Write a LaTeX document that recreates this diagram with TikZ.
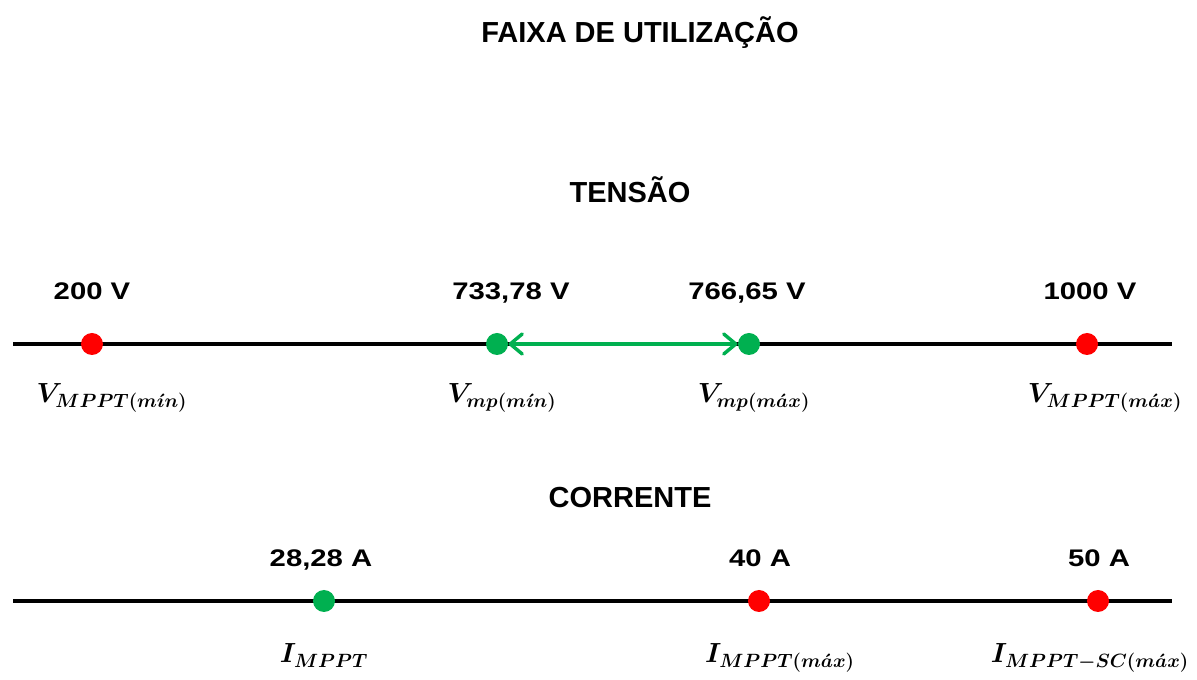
\documentclass[tikz,border=0pt]{standalone}
\usepackage[no-math]{fontspec}
\usepackage{amsmath,bm}
\usetikzlibrary{arrows.meta}
\setmainfont{Liberation Sans}
\newfontfamily\valuefont[FakeStretch=1.22]{Liberation Sans}
\definecolor{dotred}{RGB}{255,0,0}
\definecolor{dotgreen}{RGB}{0,176,80}

\tikzset{every picture/.style={line width=0.75pt}}
\tikzset{
  heading/.style={font=\fontsize{21.75}{26}\selectfont\bfseries,inner sep=0.75pt},
  value/.style={font=\valuefont\fontsize{18}{22}\selectfont\bfseries,inner sep=0.75pt},
  symb/.style={font=\fontsize{21.5}{26}\selectfont\boldmath,inner sep=0.75pt},
  reddot/.style={circle,fill=dotred,minimum size=16.5pt,inner sep=0pt},
  greendot/.style={circle,fill=dotgreen,minimum size=16.5pt,inner sep=0pt},
  axisline/.style={line width=3pt},
  rangearrow/.style={draw=dotgreen,line width=2.6pt,{Straight Barb[length=9pt,width=15pt,round]}-{Straight Barb[length=9pt,width=15pt,round]}},
}

\begin{document}
\begin{tikzpicture}[x=0.75pt,y=0.75pt,yscale=-1,xscale=1]
\useasboundingbox (0,0) rectangle (1197,680);

% Text Node
\node (title) at (640,43) [heading,anchor=base] {FAIXA DE UTILIZAÇÃO};
% Text Node
\node (tensao) at (630,203) [heading,anchor=base] {TENSÃO};
% Text Node
\node (corrente) at (630,508) [heading,anchor=base] {CORRENTE};

%Straight Lines
\draw [axisline] (13,344) -- (1172,344);
%Straight Lines
\draw [axisline] (13,601) -- (1172,601);

%Shape: Circle
\node (vmpptmin) at (92,344) [reddot] {};
%Shape: Circle
\node (vmpmin) at (497,344) [greendot] {};
%Shape: Circle
\node (vmpmax) at (749,344) [greendot] {};
%Shape: Circle
\node (vmpptmax) at (1087,344) [reddot] {};
%Shape: Circle
\node (impptdot) at (324,601) [greendot] {};
%Shape: Circle
\node (impptmax) at (759,601) [reddot] {};
%Shape: Circle
\node (impptsc) at (1098,601) [reddot] {};

%Straight Lines
\draw [rangearrow] (vmpmin) -- (vmpmax);

% Text Node
\node (v200) at (92,300) [value,anchor=base] {200 V};
% Text Node
\node (v733) at (511,300) [value,anchor=base] {733,78 V};
% Text Node
\node (v766) at (747,300) [value,anchor=base] {766,65 V};
% Text Node
\node (v1000) at (1090,300) [value,anchor=base] {1000 V};
% Text Node
\node (a28) at (321,567) [value,anchor=base] {28,28 A};
% Text Node
\node (a40) at (760,567) [value,anchor=base] {40 A};
% Text Node
\node (a50) at (1099,567) [value,anchor=base] {50 A};

% Text Node
\node (lvmpptmin) at (112,403) [symb,anchor=base] {$V_{MPPT(m\acute{\imath}n)}$};
% Text Node
\node (lvmpmin) at (502,403) [symb,anchor=base] {$V_{mp(m\acute{\imath}n)}$};
% Text Node
\node (lvmpmax) at (754,403) [symb,anchor=base] {$V_{mp(m\acute{a}x)}$};
% Text Node
\node (lvmpptmax) at (1105,403) [symb,anchor=base] {$V_{MPPT(m\acute{a}x)}$};
% Text Node
\node (limppt) at (324,663) [symb,anchor=base] {$I_{MPPT}$};
% Text Node
\node (limpptmax) at (780,663) [symb,anchor=base] {$I_{MPPT(m\acute{a}x)}$};
% Text Node
\node (limpptsc) at (1090,663) [symb,anchor=base] {$I_{MPPT-SC(m\acute{a}x)}$};

\end{tikzpicture}
\end{document}
